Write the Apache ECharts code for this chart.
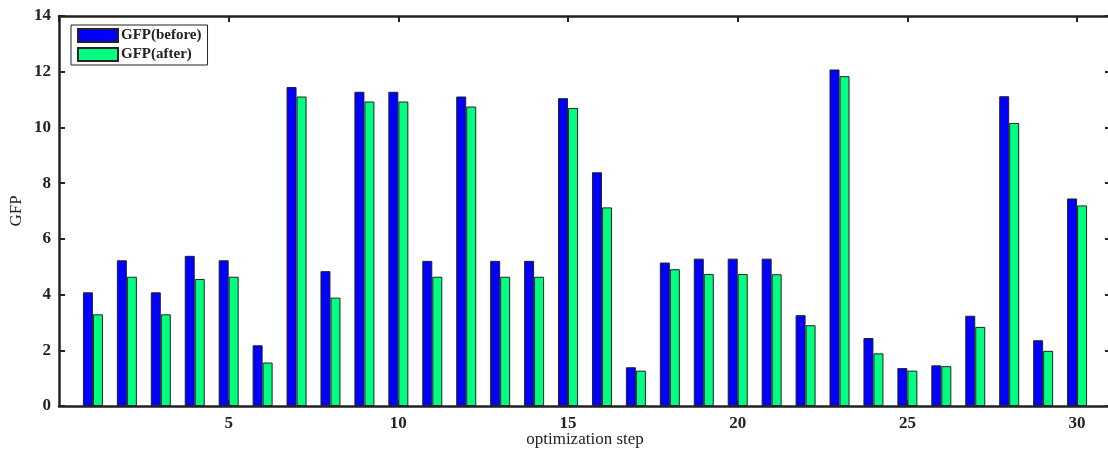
<!DOCTYPE html>
<html>
<head>
<meta charset="utf-8">
<script src="https://cdn.jsdelivr.net/npm/echarts@6/dist/echarts.min.js"></script>
<style>
  html, body { margin: 0; padding: 0; background: #fff; }
  #chart { width: 1108px; height: 454px; }
</style>
</head>
<body>
<div id="chart"></div>
<script>
const steps = Array.from({ length: 30 }, (_, i) => i + 1);
const gfpBefore = [4.08, 5.23, 4.08, 5.39, 5.23, 2.18, 11.45, 4.84, 11.28, 11.28,
  5.21, 11.11, 5.21, 5.21, 11.05, 8.39, 1.39, 5.15, 5.29, 5.29,
  5.29, 3.26, 12.08, 2.44, 1.36, 1.46, 3.24, 11.12, 2.36, 7.45];
const gfpAfter = [3.29, 4.64, 3.29, 4.56, 4.64, 1.56, 11.11, 3.89, 10.93, 10.93,
  4.64, 10.75, 4.64, 4.64, 10.70, 7.13, 1.27, 4.91, 4.74, 4.74,
  4.73, 2.90, 11.84, 1.89, 1.27, 1.43, 2.84, 10.16, 1.98, 7.20];
const xTicks = [5, 10, 15, 20, 25, 30];
const yTicks = [0, 2, 4, 6, 8, 10, 12, 14];

const AXIS_COLOR = '#222';
const LABEL_FONT = { fontFamily: 'Liberation Serif', fontWeight: 'bold', fontSize: 17, color: '#222' };
const TICK = { show: true, inside: true, length: 6, lineStyle: { color: AXIS_COLOR, width: 2 } };

const chart = echarts.init(document.getElementById('chart'), null, { renderer: 'canvas' });

function barSeries(name, values, color) {
  return {
    name,
    type: 'bar',
    xAxisIndex: 0,
    yAxisIndex: 0,
    barWidth: 10,
    barGap: '0%',
    data: steps.map((s, i) => [s, values[i]]),
    itemStyle: { color, borderColor: '#222', borderWidth: 1 },
    emphasis: { disabled: true },
  };
}

chart.setOption({
  animation: false,
  backgroundColor: '#fff',
  grid: { left: 59, right: -3, top: 16, bottom: 48, containLabel: false, outerBoundsMode: 'none' },
  legend: {
    left: 71,
    top: 25,
    orient: 'vertical',
    itemWidth: 40,
    itemHeight: 13,
    itemGap: 4,
    padding: [3, 6, 3, 6],
    borderColor: '#222',
    borderWidth: 1,
    backgroundColor: '#fff',
    icon: 'rect',
    textStyle: { fontFamily: 'Liberation Serif', fontWeight: 'bold', fontSize: 15, color: '#222', padding: [0, 0, 0, -2] },
    data: ['GFP(before)', 'GFP(after)'],
  },
  xAxis: [
    {
      type: 'value',
      min: 0,
      max: 31,
      interval: 5,
      name: 'optimization step',
      nameLocation: 'middle',
      nameGap: 25,
      nameMoveOverlap: false,
      nameTextStyle: { fontFamily: 'Liberation Serif', fontSize: 17, color: '#222' },
      axisLine: { show: true, onZero: false, lineStyle: { color: AXIS_COLOR, width: 2.5 } },
      axisTick: TICK,
      axisLabel: {
        ...LABEL_FONT,
        margin: 9,
        showMinLabel: false,
        showMaxLabel: false,
        formatter: (v) => (xTicks.includes(v) ? String(v) : ''),
      },
      splitLine: { show: false },
    },
    {
      type: 'value',
      position: 'top',
      min: 0,
      max: 31,
      interval: 5,
      axisLine: { show: true, onZero: false, lineStyle: { color: AXIS_COLOR, width: 2.5 } },
      axisTick: TICK,
      axisLabel: { show: false },
      splitLine: { show: false },
    },
  ],
  yAxis: [
    {
      type: 'value',
      min: yTicks[0],
      max: yTicks[yTicks.length - 1],
      interval: 2,
      name: 'GFP',
      nameLocation: 'middle',
      nameGap: 34,
      nameMoveOverlap: false,
      nameTextStyle: { fontFamily: 'Liberation Serif', fontSize: 17, color: '#222' },
      axisLine: { show: true, onZero: false, lineStyle: { color: AXIS_COLOR, width: 2.5 } },
      axisTick: TICK,
      axisLabel: { ...LABEL_FONT, margin: 8 },
      splitLine: { show: false },
    },
    {
      type: 'value',
      position: 'right',
      min: yTicks[0],
      max: yTicks[yTicks.length - 1],
      interval: 2,
      axisLine: { show: true, onZero: false, lineStyle: { color: AXIS_COLOR, width: 2.5 } },
      axisTick: TICK,
      axisLabel: { show: false },
      splitLine: { show: false },
    },
  ],
  series: [
    barSeries('GFP(before)', gfpBefore, '#0000ff'),
    barSeries('GFP(after)', gfpAfter, '#00ff80'),
  ],
});
</script>
</body>
</html>
